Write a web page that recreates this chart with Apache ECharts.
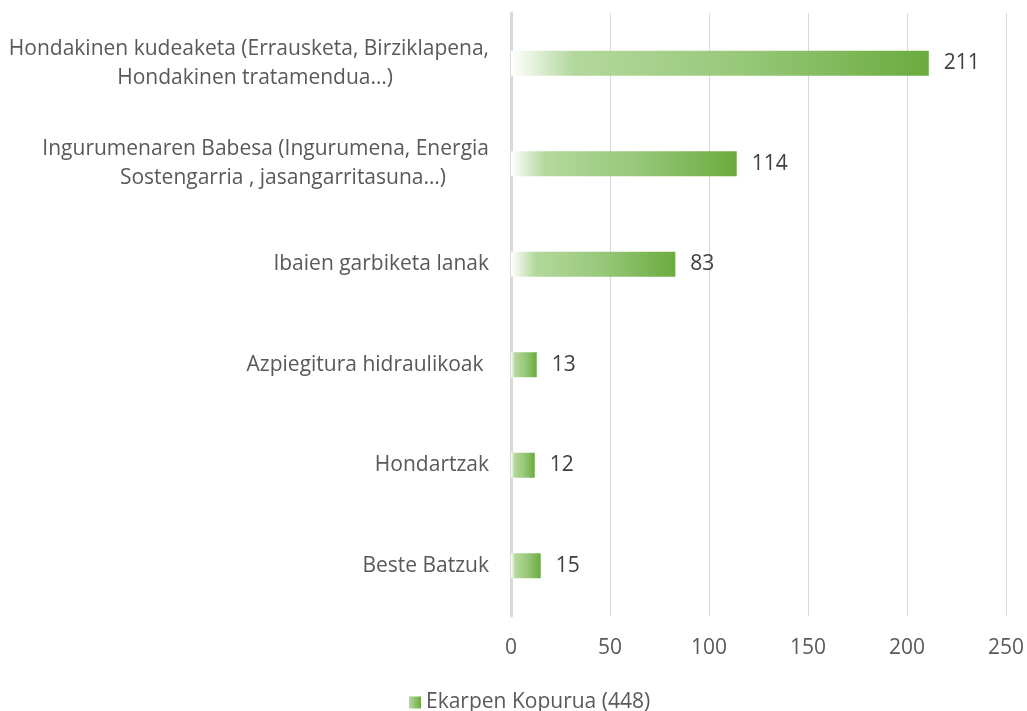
<!DOCTYPE html>
<html>
<head>
<meta charset="utf-8">
<script src="https://cdn.jsdelivr.net/npm/echarts@6/dist/echarts.min.js"></script>
<style>
  html, body { margin: 0; padding: 0; background: #fff; }
  #chart { width: 1027px; height: 711px; }
</style>
</head>
<body>
<div id="chart"></div>
<script>
// categories, top to bottom
const categories = [
  'Hondakinen kudeaketa (Errausketa, Birziklapena,\nHondakinen tratamendua…)',
  'Ingurumenaren Babesa (Ingurumena, Energia\nSostengarria , jasangarritasuna…)',
  'Ibaien garbiketa lanak',
  'Azpiegitura hidraulikoak ',
  'Hondartzak',
  'Beste Batzuk'
]
const values = [211, 114, 83, 13, 12, 15]
const seriesName = 'Ekarpen Kopurua (448)'
const xTicks = [0, 50, 100, 150, 200, 250]

// how far (px) each wrapped line sits left of the label's right edge
const lineInsets = [[0, 96], [0, 43]]

const barGradient = new echarts.graphic.LinearGradient(0, 0, 1, 0, [
  { offset: 0, color: 'rgba(255,255,255,1)' },
  { offset: 0.15, color: '#b3d89c' },
  { offset: 0.55, color: '#98c87a' },
  { offset: 1, color: '#6aab3e' }
])
const legendGradient = new echarts.graphic.LinearGradient(0, 0, 1, 0, [
  { offset: 0, color: '#b5d99e' },
  { offset: 1, color: '#6aab3e' }
])

const labelFont = '"Open Sans", "Noto Sans", sans-serif'
const fontSize = 21

let rich = {}
lineInsets.forEach((insets) => {
  insets.forEach((inset) => {
    rich['o' + inset] = {
      padding: [0, inset, 0, 0],
      lineHeight: 29,
      color: '#595959',
      fontSize: fontSize,
      fontFamily: labelFont
    }
  })
})

let chart = echarts.init(document.getElementById('chart'), null, { renderer: 'canvas' })

let option = {
  animation: false,
  grid: {
    left: 511,
    right: 19,
    top: 13,
    bottom: 95,
    containLabel: false
  },
  legend: {
    show: true,
    top: 687,
    left: 404,
    icon: 'rect',
    itemWidth: 12,
    itemHeight: 12,
    itemGap: 4,
    textStyle: {
      color: '#595959',
      fontSize: fontSize,
      fontFamily: labelFont
    },
    data: [{ name: seriesName, itemStyle: { color: legendGradient } }]
  },
  xAxis: {
    type: 'value',
    min: xTicks[0],
    max: xTicks[xTicks.length - 1],
    interval: 50,
    axisLine: { show: false },
    axisTick: { show: false },
    splitLine: { lineStyle: { color: '#d9d9d9', width: 1 } },
    axisLabel: {
      color: '#595959',
      fontSize: fontSize,
      fontFamily: labelFont,
      margin: 22
    }
  },
  yAxis: {
    type: 'category',
    inverse: true,
    data: categories,
    axisLine: { show: true, lineStyle: { color: '#d9d9d9', width: 3 } },
    axisTick: { show: false },
    axisLabel: {
      color: '#595959',
      fontSize: fontSize,
      fontFamily: labelFont,
      margin: 22,
      formatter: (value, idx) => {
        if (value.indexOf('\n') < 0 || !lineInsets[idx]) {
          return value
        }
        return value.split('\n')
          .map((line, i) => '{o' + lineInsets[idx][i] + '|' + line + '}')
          .join('\n')
      },
      rich: rich
    }
  },
  series: [
    {
      name: seriesName,
      type: 'bar',
      data: values,
      barWidth: 25,
      itemStyle: { color: barGradient },
      label: {
        show: true,
        position: 'right',
        distance: 15,
        color: '#404040',
        fontSize: fontSize,
        fontFamily: labelFont
      }
    }
  ]
}

chart.setOption(option)
</script>
</body>
</html>
